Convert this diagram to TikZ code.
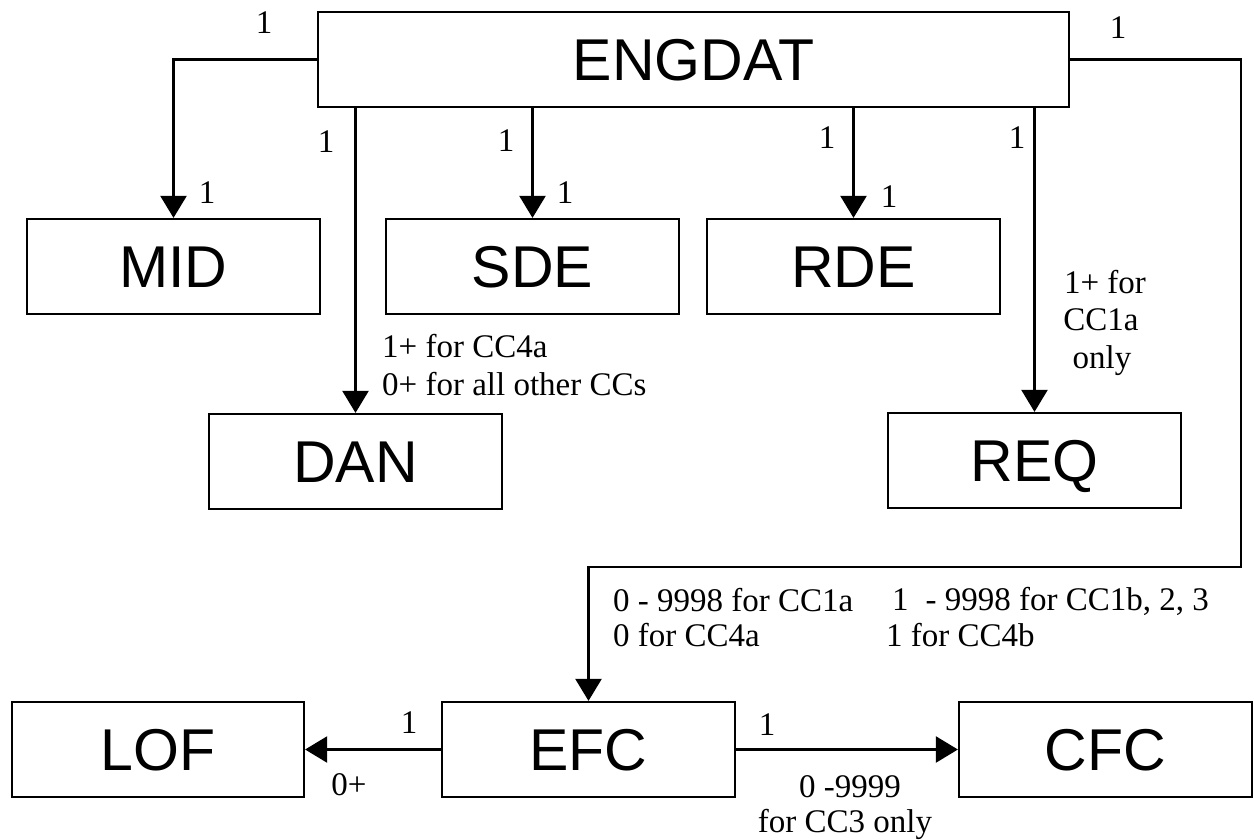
\documentclass[tikz,border=0pt]{standalone}
\usepackage{fontspec}
\setmainfont{Liberation Serif}
\newfontfamily\boxfont{Liberation Sans}
\usetikzlibrary{arrows.meta}
\begin{document}
\begin{tikzpicture}[x=1pt,y=-1pt,
  box/.style={draw, line width=2.2pt, minimum width=293pt, minimum height=95pt, inner sep=0pt, text height=42pt, text depth=0pt, font=\boxfont\fontsize{59}{59}\selectfont},
  lbl/.style={inner sep=0pt, font=\fontsize{33}{38}\selectfont},
  conn/.style={line width=2.2pt},
  arr/.style={conn, -{Triangle[length=22pt,width=26pt]}}]
\useasboundingbox (0,0) rectangle (1254,839);

\node[box, minimum width=751pt] (engdat) at (693.5,59.5) {ENGDAT};
\node[box] (mid) at (173.5,266.5) {MID};
\node[box] (sde) at (532.5,266.5) {SDE};
\node[box] (rde) at (853.5,266.5) {RDE};
\node[box] (dan) at (355.5,461.5) {DAN};
\node[box] (req) at (1034.5,460.5) {REQ};
\node[box, minimum width=292pt] (lof) at (158,749.5) {LOF};
\node[box] (efc) at (588.5,749.5) {EFC};
\node[box] (cfc) at (1105.5,749.5) {CFC};

\coordinate (rt) at (1241,567);
\draw[arr] (engdat.west) -| (mid.north);
\draw[arr] (engdat.south -| dan.north) -- (dan.north);
\draw[arr] (engdat.south -| sde.north) -- (sde.north);
\draw[arr] (engdat.south -| rde.north) -- (rde.north);
\draw[arr] (engdat.south -| req.north) -- (req.north);
\draw[arr] (engdat.east) -| (rt) -| (efc.north);
\draw[arr] (efc.west) -- (lof.east);
\draw[arr] (efc.east) -- (cfc.west);

\node[lbl, anchor=base] (l1) at (264,33) {1};
\node[lbl, anchor=base] (l2) at (207,203) {1};
\node[lbl, anchor=base] (l3) at (326,152) {1};
\node[lbl, anchor=base] (l4) at (506,151) {1};
\node[lbl, anchor=base] (l5) at (565,203) {1};
\node[lbl, anchor=base] (l6) at (827,148) {1};
\node[lbl, anchor=base] (l7) at (889,207) {1};
\node[lbl, anchor=base] (l8) at (1017,148) {1};
\node[lbl, anchor=base] (l9) at (1118,38) {1};
\node[lbl, anchor=base] (l10) at (409,733) {1};
\node[lbl, anchor=base] (l11) at (767,735) {1};
\node[lbl, anchor=base] (l12) at (349,795) {0+};

\node[lbl, anchor=base west] (dan1) at (382,357) {1+ for CC4a};
\node[lbl, anchor=base west] (dan2) at (382,395) {0+ for all other CCs};

\node[lbl, anchor=base] (req1) at (1105,293) {1+ for};
\node[lbl, anchor=base] (req2) at (1101,330) {CC1a};
\node[lbl, anchor=base] (req3) at (1102,368) {only};

\node[lbl, anchor=base west] (efc1) at (613,611) {0 - 9998 for CC1a};
\node[lbl, anchor=base west] (efc2) at (613,646) {0 for CC4a};
\node[lbl, anchor=base west] (efc3) at (892,610) {1\hspace{17pt}- 9998 for CC1b, 2, 3};
\node[lbl, anchor=base west] (efc4) at (886,646) {1 for CC4b};

\node[lbl, anchor=base] (cfc1) at (850,797) {0 -9999};
\node[lbl, anchor=base] (cfc2) at (845,832) {for CC3 only};
\end{tikzpicture}
\end{document}
